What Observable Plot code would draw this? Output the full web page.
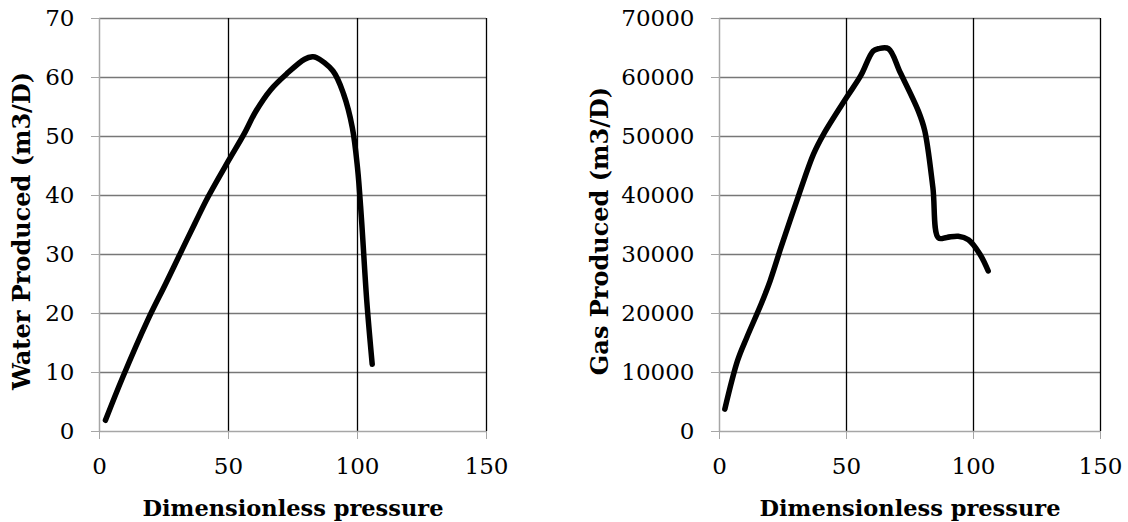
<!DOCTYPE html>
<html>
<head>
<meta charset="utf-8">
<script src="https://cdn.jsdelivr.net/npm/d3@7"></script>
<script src="https://cdn.jsdelivr.net/npm/@observablehq/plot@0.6"></script>
<style>
  html, body { margin: 0; padding: 0; background: #fff; }
  #wrap { display: flex; width: 1128px; height: 522px; }
</style>
</head>
<body>
<div id="wrap"></div>
<script>
// Shared axis
const xTicks = [0, 50, 100, 150];
const xTitle = "Dimensionless pressure";

// Left chart: water produced
const waterPressure = [2.3, 9, 18.6, 25.6, 31, 37, 42, 50, 56, 60.5, 66.3, 72.5, 79.5, 82.5, 84, 90.5, 94.6, 98, 100, 101.5, 103.6, 105.7];
const waterRate = [1.9, 9.2, 18.8, 25, 29.9, 35.3, 39.7, 45.9, 50.4, 54.2, 57.9, 60.6, 63.1, 63.5, 63.4, 61.1, 57.2, 51.5, 44.7, 36.3, 22.1, 11.4];
const waterTicks = [0, 10, 20, 30, 40, 50, 60, 70];
const waterTitle = "Water Produced (m3/D)";

// Right chart: gas produced
const gasPressure = [2.1, 7.1, 10.7, 16.4, 19.9, 24.2, 31.3, 37, 41, 50, 55.6, 60.5, 62.7, 66.5, 71.2, 78.3, 80.8, 84, 86.2, 89.5, 94, 98, 102.6, 105.8];
const gasRate = [3800, 12000, 15900, 21600, 25500, 31200, 40200, 47000, 50400, 56600, 60300, 64500, 64900, 64900, 60800, 54300, 51000, 41400, 32800, 32900, 33100, 32500, 30000, 27200];
const gasTicks = [0, 10000, 20000, 30000, 40000, 50000, 60000, 70000];
const gasTitle = "Gas Produced (m3/D)";

function makeChart({xs, ys, yTicks, yTitle, width, marginLeft, marginRight, yLabelDx}) {
  const data = xs.map((x, i) => ({x, y: ys[i]}));
  const yMax = yTicks[yTicks.length - 1];
  return Plot.plot({
    width,
    height: 522,
    marginLeft,
    marginRight,
    marginTop: 18,
    marginBottom: 91,
    style: {fontFamily: "DejaVu Serif", fontSize: "23px", color: "black", background: "white", overflow: "visible"},
    x: {domain: [0, 150], ticks: xTicks},
    y: {domain: [0, yMax], ticks: yTicks},
    marks: [
      Plot.ruleY(yTicks.slice(1), {stroke: "#777777", strokeWidth: 1.3}),
      Plot.ruleX(xTicks.slice(1), {stroke: "black", strokeWidth: 1.3}),
      Plot.ruleY([0], {stroke: "#a6a6a6", strokeWidth: 1.5}),
      Plot.ruleX([0], {stroke: "#a6a6a6", strokeWidth: 1.5}),
      Plot.axisY({ticks: yTicks, tickSize: 8, tickPadding: 17, stroke: "#a6a6a6", fill: "black", tickFormat: d3.format("d"), label: null}),
      Plot.axisX({ticks: xTicks, tickSize: 8, tickPadding: 18, stroke: "#a6a6a6", fill: "black", tickFormat: d3.format("d"), label: null}),
      Plot.line(data, {x: "x", y: "y", stroke: "black", strokeWidth: 5.5, curve: "catmull-rom", strokeLinecap: "round", strokeLinejoin: "round"}),
      Plot.text([xTitle], {frameAnchor: "bottom", dy: 77, lineAnchor: "middle", textAnchor: "middle", text: d => d, fontWeight: "bold", fontSize: 22.5, fill: "black"}),
      Plot.text([yTitle], {frameAnchor: "left", dx: yLabelDx, dy: 6, rotate: -90, lineAnchor: "middle", textAnchor: "middle", text: d => d, fontWeight: "bold", fontSize: 24, fill: "black"})
    ]
  });
}

const wrap = document.getElementById("wrap");
wrap.appendChild(makeChart({xs: waterPressure, ys: waterRate, yTicks: waterTicks, yTitle: waterTitle, width: 560, marginLeft: 99, marginRight: 74, yLabelDx: -77}));
wrap.appendChild(makeChart({xs: gasPressure, ys: gasRate, yTicks: gasTicks, yTitle: gasTitle, width: 568, marginLeft: 159, marginRight: 28, yLabelDx: -119}));
</script>
</body>
</html>
